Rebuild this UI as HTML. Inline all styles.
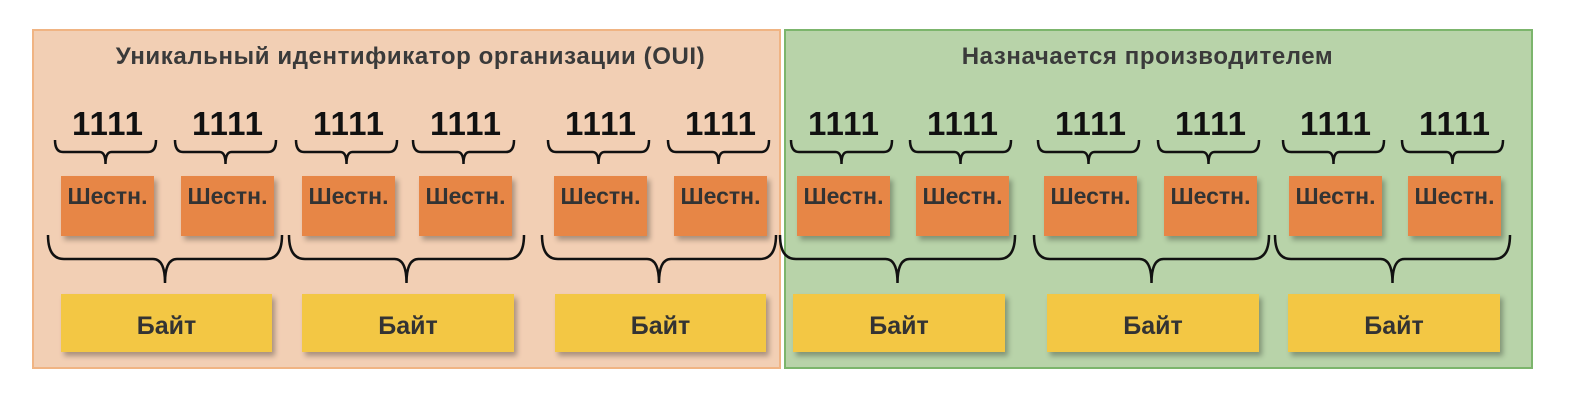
<!DOCTYPE html>
<html><head><meta charset="utf-8"><style>
body{margin:0;width:1574px;height:406px;background:#fff;position:relative;font-family:"Liberation Sans",Arial,sans-serif;overflow:hidden}
.p{position:absolute;box-sizing:border-box}
.t{position:absolute;font-weight:bold;color:#3a3a3a;font-size:24px;letter-spacing:0.6px;text-align:center}
.h{position:absolute;width:93px;height:60px;background:#e78646;box-shadow:3px 4px 5px rgba(0,0,0,.3);font-weight:bold;color:#333;font-size:23px;text-align:center;line-height:40px;white-space:nowrap}
.b{position:absolute;height:58px;background:#f3c744;box-shadow:3px 4px 5px rgba(0,0,0,.3);font-weight:bold;color:#333;font-size:25px;text-align:center;line-height:64px}
.n{position:absolute;width:120px;text-align:center;font-weight:bold;font-size:33px;color:#111;top:105px;letter-spacing:1px}
</style></head><body>
<div class="p" style="left:32px;top:29px;width:749px;height:340px;background:#f2cfb4;border:2px solid #f0b483"></div>
<div class="p" style="left:784px;top:29px;width:749px;height:340px;background:#b8d3a9;border:2px solid #7cb56c"></div>
<div class="t" style="left:32px;width:757px;top:43px">Уникальный идентификатор организации (OUI)</div>
<div class="t" style="left:784px;width:727px;top:43px">Назначается производителем</div>
<div id="c"></div>
<svg class="p" style="left:0;top:0" width="1574" height="406" id="s" fill="none" stroke="#111" stroke-width="2.5"></svg>
<script>
var hx=[61,181,302,419,554,674,797,916,1044,1164,1289,1408];
var bx=[[61,272],[302,514],[555,766],[793,1005],[1047,1259],[1288,1500]];
var h='',p='';
hx.forEach(function(x){
 h+='<div class="h" style="left:'+x+'px;top:176px">Шестн.</div>';
 h+='<div class="n" style="left:'+(x+47-60)+'px">1111</div>';
 var x1=x-6,x2=x+95,m=(x1+x2)/2;
 p+='<path d="M'+x1+',140 q0,12 8,12 H'+(m-6)+' q6,0 6,12 q0,-12 6,-12 H'+(x2-8)+' q8,0 8,-12"/>';
});
bx.forEach(function(b){
 h+='<div class="b" style="left:'+b[0]+'px;width:'+(b[1]-b[0])+'px;top:294px">Байт</div>';
 var x1=b[0]-13,x2=b[1]+10,m=(x1+x2)/2;
 p+='<path d="M'+x1+',235 q0,24 16,24 H'+(m-12)+' q12,0 12,24 q0,-24 12,-24 H'+(x2-16)+' q16,0 16,-24"/>';
});
document.getElementById('c').innerHTML=h;
document.getElementById('s').innerHTML=p;
</script>
</body></html>
